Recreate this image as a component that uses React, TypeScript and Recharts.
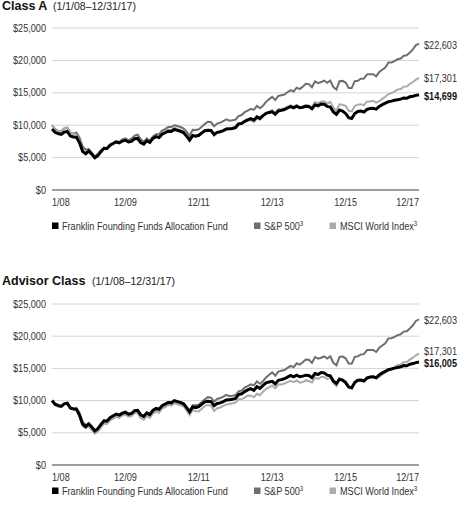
import React from "react";
import { LineChart, Line, XAxis, YAxis, CartesianGrid } from "recharts";

// Month index 0 = 1/1/08 start, 1..120 = month-ends Jan 2008 .. Dec 2017
const sp500 = [
  10000,
  9400, 9095, 9055, 9496, 9620, 8809, 8735, 8862, 8072, 6716, 6234, 6300,
  5769, 5155, 5606, 6143, 6486, 6499, 6990, 7243, 7513, 7373, 7816, 7967,
  7680, 7918, 8396, 8528, 7847, 7437, 7958, 7599, 8277, 8592, 8593, 9167,
  9384, 9706, 9710, 9997, 9884, 9719, 9522, 9005, 8372, 9287, 9267, 9361,
  9780, 10203, 10538, 10472, 9843, 10248, 10391, 10625, 10899, 10697, 10759, 10857,
  11419, 11574, 12008, 12240, 12526, 12358, 12987, 12611, 13007, 13605, 14020, 14375,
  13878, 14512, 14634, 14742, 15088, 15400, 15188, 15795, 15574, 15954, 16383, 16342,
  15852, 16764, 16499, 16657, 16872, 16545, 16892, 15874, 15482, 16789, 16839, 16573,
  15751, 15731, 16798, 16863, 17167, 17212, 17847, 17872, 17875, 17550, 18199, 18560,
  18913, 19664, 19688, 19891, 20171, 20296, 20714, 20778, 21206, 21700, 22366, 22603,
];

const msciWorld = [
  10000,
  9240, 9129, 9010, 9515, 9667, 8894, 8680, 8524, 7510, 6091, 5719, 5967,
  5440, 4885, 5252, 5845, 6435, 6410, 6955, 7240, 7537, 7386, 7696, 7804,
  7484, 7581, 8059, 8059, 7301, 7046, 7603, 7322, 8003, 8299, 8116, 8767,
  8969, 9301, 9208, 9604, 9421, 9280, 9131, 8474, 7745, 8551, 8354, 8327,
  8743, 9181, 9309, 9207, 8387, 8815, 8938, 9171, 9409, 9475, 9598, 9704,
  10199, 10199, 10454, 10789, 10767, 10509, 11066, 10834, 11386, 11842, 12055, 12360,
  11903, 12498, 12511, 12636, 12863, 13069, 12860, 13130, 12789, 12879, 13136, 13040,
  12805, 13561, 13358, 13665, 13679, 13351, 13591, 12694, 12237, 13216, 13150, 12998,
  12218, 12133, 12958, 13165, 13244, 13098, 13661, 13675, 13757, 13496, 13698, 14058,
  14395, 14798, 14961, 15185, 15519, 15581, 15955, 15987, 16355, 16666, 17033, 17301,
];

const fundClassA = [
  9425,
  8905, 8714, 8571, 8946, 9038, 8330, 8188, 8139, 7290, 5972, 5595, 6017,
  5545, 4980, 5308, 5918, 6433, 6403, 6899, 7180, 7413, 7270, 7550, 7689,
  7406, 7498, 7918, 7964, 7306, 7071, 7584, 7348, 7955, 8234, 8092, 8605,
  8837, 9069, 9020, 9345, 9203, 9061, 8872, 8310, 7701, 8400, 8305, 8443,
  8814, 9139, 9230, 9181, 8573, 8898, 8989, 9173, 9404, 9449, 9493, 9631,
  10186, 10277, 10600, 10830, 11013, 10779, 11287, 11053, 11468, 11837, 11974, 12064,
  11690, 12198, 12288, 12424, 12654, 12883, 12694, 12923, 12689, 12779, 12915, 12866,
  12539, 13138, 12996, 13271, 13222, 12895, 12800, 12058, 11686, 12330, 12189, 11817,
  11168, 11027, 11809, 12130, 12173, 12032, 12444, 12580, 12623, 12482, 12894, 13167,
  13395, 13622, 13711, 13846, 13935, 14024, 14205, 14156, 14382, 14471, 14606, 14699,
];

const fundAdvisor = [
  10000,
  9450, 9250, 9100, 9500, 9600, 8850, 8700, 8650, 7750, 6350, 5950, 6400,
  5900, 5300, 5650, 6300, 6850, 6820, 7350, 7650, 7900, 7750, 8050, 8200,
  7900, 8000, 8450, 8500, 7800, 7550, 8100, 7850, 8500, 8800, 8650, 9200,
  9450, 9700, 9650, 10000, 9850, 9700, 9500, 8900, 8250, 9000, 8900, 9050,
  9450, 9800, 9900, 9850, 9200, 9550, 9650, 9850, 10100, 10150, 10200, 10350,
  10950, 11050, 11400, 11650, 11850, 11600, 12150, 11900, 12350, 12750, 12900, 13000,
  12600, 13150, 13250, 13400, 13650, 13900, 13700, 13950, 13700, 13800, 13950, 13900,
  13550, 14200, 14050, 14350, 14300, 13950, 13850, 13050, 12650, 13350, 13200, 12800,
  12100, 11950, 12800, 13150, 13200, 13050, 13500, 13650, 13700, 13550, 14000, 14300,
  14550, 14800, 14900, 15050, 15150, 15250, 15450, 15400, 15650, 15750, 15900, 16005,
];

const xTickIndex = [0, 24, 48, 72, 96, 120];
const xTickLabels = ["1/08", "12/09", "12/11", "12/13", "12/15", "12/17"];
const yTicks = [0, 5000, 10000, 15000, 20000, 25000];

const seriesNames = ["Franklin Founding Funds Allocation Fund", "S&P 500", "MSCI World Index"];

const FONT = "'Liberation Sans', Arial, sans-serif";
const C_FUND = "#000000";
const C_SP = "#6e6e6e";
const C_MSCI = "#ababab";
const TEXT = "#333333";
const SQUEEZE = 0.87;

const fmtMoney = (v: number) => "$" + v.toLocaleString("en-US");

// condensed text (the reference uses a narrow sans face)
const NText = (p: any) => {
  const { x, y, anchor = "start", size = 10.5, weight = "normal", fill = TEXT, children } = p;
  return (
    <text
      transform={`translate(${x},${y}) scale(${SQUEEZE},1)`}
      textAnchor={anchor}
      fontSize={size}
      fontFamily={FONT}
      fontWeight={weight}
      fill={fill}
    >
      {children}
    </text>
  );
};

const YTick = (props: any) => {
  const { x, y, payload } = props;
  return <NText x={x} y={y + 3.6} anchor="end">{fmtMoney(payload.value)}</NText>;
};

const XTick = (props: any) => {
  const { x, y, payload } = props;
  const pos = xTickIndex.indexOf(payload.value);
  const anchor = pos === 0 ? "start" : pos === xTickIndex.length - 1 ? "end" : "middle";
  return <NText x={x} y={y + 15.5} anchor={anchor}>{xTickLabels[pos]}</NText>;
};

const endLabel = (bold: boolean, dy: number) => (props: any) => {
  const { x, y, index, value } = props;
  if (index !== sp500.length - 1) return null;
  return (
    <NText x={x + 5} y={y + dy} weight={bold ? "bold" : "normal"} fill={bold ? "#111" : TEXT}>
      {fmtMoney(value)}
    </NText>
  );
};

type PanelProps = {
  top: number;
  height: number;
  fund: number[];
  mlDy: number;
};

const Panel = ({ top, height, fund, mlDy }: PanelProps) => {
  const data = sp500.map((v, i) => ({ i, sp: v, msci: msciWorld[i], fund: fund[i] }));
  return (
    <div style={{ position: "absolute", left: 0, top }}>
      <LineChart width={459} height={height} data={data} margin={{ top: 28, right: 40, left: 0, bottom: 0 }}>
        <CartesianGrid horizontal vertical={false} stroke="#d4d4d4" strokeWidth={1} />
        <YAxis
          width={52}
          type="number"
          domain={[0, 25000]}
          ticks={yTicks}
          axisLine={false}
          tickLine={false}
          tickSize={0}
          tickMargin={6}
          tick={<YTick />}
          interval={0}
        />
        <XAxis
          dataKey="i"
          type="number"
          domain={[0, 120]}
          ticks={xTickIndex}
          height={20}
          axisLine={{ stroke: "#555", strokeWidth: 1 }}
          tickLine={false}
          tickSize={0}
          tickMargin={0}
          tick={<XTick />}
          interval={0}
        />
        <Line
          dataKey="sp"
          stroke={C_SP}
          strokeWidth={2}
          dot={false}
          isAnimationActive={false}
          label={endLabel(false, 5)}
        />
        <Line
          dataKey="msci"
          stroke={C_MSCI}
          strokeWidth={2}
          dot={false}
          isAnimationActive={false}
          label={endLabel(false, mlDy)}
        />
        <Line
          dataKey="fund"
          stroke={C_FUND}
          strokeWidth={3}
          dot={false}
          isAnimationActive={false}
          label={endLabel(true, 5.5)}
        />
      </LineChart>
    </div>
  );
};

const Legend = ({ y }: { y: number }) => (
  <g>
    <rect x={52} y={y - 4} width={6.5} height={6.5} fill={C_FUND} />
    <NText x={62} y={y + 3.6}>{seriesNames[0]}</NText>
    <rect x={254} y={y - 4} width={6.5} height={6.5} fill={C_SP} />
    <NText x={264} y={y + 3.6}>
      {seriesNames[1]}
      <tspan fontSize={7} dy={-4}>3</tspan>
    </NText>
    <rect x={329.5} y={y - 4} width={6.5} height={6.5} fill={C_MSCI} />
    <NText x={340} y={y + 3.6}>
      {seriesNames[2]}
      <tspan fontSize={7} dy={-4}>3</tspan>
    </NText>
  </g>
);

export default function App() {
  return (
    <div style={{ position: "absolute", left: 0, top: 0, width: 459, height: 507, background: "#fff", overflow: "hidden" }}>
      <Panel top={0} height={210} fund={fundClassA} mlDy={4.5} />
      <Panel top={276} height={209} fund={fundAdvisor} mlDy={1} />
      <svg width={459} height={507} style={{ position: "absolute", left: 0, top: 0, pointerEvents: "none" }}>
        <text x={2} y={10} fontFamily={FONT} fontSize={12.5} fontWeight="bold" fill="#111">Class A</text>
        <text x={53} y={10} fontFamily={FONT} fontSize={10.5} fill="#222">(1/1/08–12/31/17)</text>
        <Legend y={226.5} />
        <text x={2} y={285} fontFamily={FONT} fontSize={12.5} fontWeight="bold" fill="#111">Advisor Class</text>
        <text x={92} y={285} fontFamily={FONT} fontSize={10.5} fill="#222">(1/1/08–12/31/17)</text>
        <Legend y={491.5} />
      </svg>
    </div>
  );
}
